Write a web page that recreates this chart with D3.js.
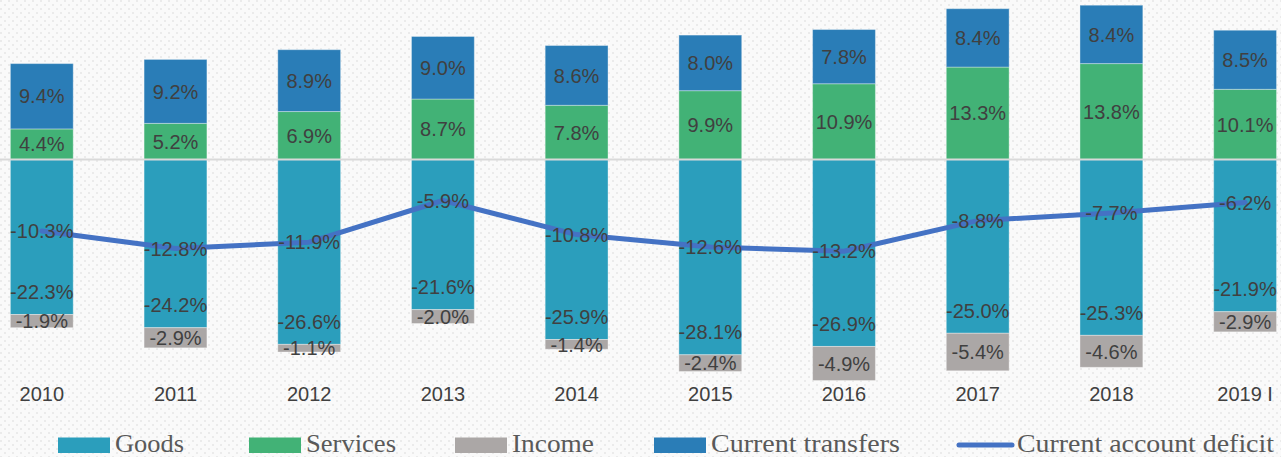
<!DOCTYPE html>
<html>
<head>
<meta charset="utf-8">
<script src="https://cdn.jsdelivr.net/npm/d3@7/dist/d3.min.js"></script>
<style>
  html, body { margin: 0; padding: 0; background: #fafafa; }
  svg { display: block; }
</style>
</head>
<body>
<svg id="chart" width="1281" height="457"></svg>
<script>
const categories = ["2010","2011","2012","2013","2014","2015","2016","2017","2018","2019 I"];
const goods     = [-22.3,-24.2,-26.6,-21.6,-25.9,-28.1,-26.9,-25.0,-25.3,-21.9];
const services  = [4.4,5.2,6.9,8.7,7.8,9.9,10.9,13.3,13.8,10.1];
const income    = [-1.9,-2.9,-1.1,-2.0,-1.4,-2.4,-4.9,-5.4,-4.6,-2.9];
const transfers = [9.4,9.2,8.9,9.0,8.6,8.0,7.8,8.4,8.4,8.5];
const deficit   = [-10.3,-12.8,-11.9,-5.9,-10.8,-12.6,-13.2,-8.8,-7.7,-6.2];
const seriesNames = ["Goods","Services","Income","Current transfers","Current account deficit"];

const colors = {
  goods: "#2b9ebc",
  services: "#42b276",
  income: "#aba7a6",
  transfers: "#2a7db7",
  line: "#4472c4"
};

const svg = d3.select("#chart");
const W = 1281, H = 457;

// background dotted pattern
const defs = svg.append("defs");
const pat = defs.append("pattern").attr("id","dots").attr("patternUnits","userSpaceOnUse")
  .attr("width",8).attr("height",8);
pat.append("rect").attr("width",8).attr("height",8).attr("fill","#fafafa");
pat.append("rect").attr("x",0).attr("y",0).attr("width",2).attr("height",2).attr("fill","#ebebeb");
pat.append("rect").attr("x",4).attr("y",4).attr("width",2).attr("height",2).attr("fill","#ebebeb");
svg.append("rect").attr("width",W).attr("height",H).attr("fill","url(#dots)");

const x = d3.scaleBand().domain(categories).range([-25.05, 1311.95]).paddingInner(0.53).paddingOuter(0.265);
const y = d3.scaleLinear().domain([-30, 20]).range([368, 20.5]);
const cx = c => x(c) + x.bandwidth() / 2;

const rows = categories.map((c, i) => ({
  c, goods: goods[i], services: services[i], income: income[i], transfers: transfers[i], deficit: deficit[i]
}));

// segments: positive stack services then transfers; negative goods then income
const segs = [];
rows.forEach(r => {
  segs.push({c: r.c, key: "services", v: r.services, y0: 0, y1: r.services});
  segs.push({c: r.c, key: "transfers", v: r.transfers, y0: r.services, y1: r.services + r.transfers});
  segs.push({c: r.c, key: "goods", v: r.goods, y0: 0, y1: r.goods});
  segs.push({c: r.c, key: "income", v: r.income, y0: r.goods, y1: r.goods + r.income});
});

const g = svg.append("g");
g.selectAll("rect.seg").data(segs).join("rect")
  .attr("class","seg")
  .attr("x", d => x(d.c))
  .attr("width", x.bandwidth())
  .attr("y", d => y(Math.max(d.y0, d.y1)))
  .attr("height", d => Math.abs(y(d.y0) - y(d.y1)))
  .attr("fill", d => colors[d.key])
  .attr("stroke", "rgba(255,255,255,0.35)")
  .attr("stroke-width", 1);

// zero line
svg.append("line")
  .attr("x1", 0).attr("x2", W)
  .attr("y1", y(0)).attr("y2", y(0))
  .attr("stroke", "#d9d9d9").attr("stroke-width", 2);

const fmt = v => v.toFixed(1) + "%";
const labelFont = "'Liberation Sans', Arial, sans-serif";

// segment labels
svg.append("g").selectAll("text").data(segs).join("text")
  .attr("x", d => cx(d.c))
  .attr("y", d => d.key === "goods" ? y(d.y1) - 22.5 : (y(d.y0) + y(d.y1)) / 2)
  .attr("dy", "0.36em")
  .attr("text-anchor", "middle")
  .attr("font-family", labelFont)
  .attr("font-size", 20)
  .attr("fill", "#404040")
  .text(d => fmt(d.v));

// line
const line = d3.line().x(d => cx(d.c)).y(d => y(d.deficit));
svg.append("path").datum(rows)
  .attr("d", line)
  .attr("fill", "none")
  .attr("stroke", colors.line)
  .attr("stroke-width", 5)
  .attr("stroke-linejoin", "round")
  .attr("stroke-linecap", "round");

svg.append("g").selectAll("text").data(rows).join("text")
  .attr("x", d => cx(d.c))
  .attr("y", d => y(d.deficit))
  .attr("dy", "0.36em")
  .attr("text-anchor", "middle")
  .attr("font-family", labelFont)
  .attr("font-size", 20)
  .attr("fill", "#404040")
  .text(d => fmt(d.deficit));

// x axis labels
const xAxis = d3.axisBottom(x).tickSize(0).tickPadding(0);
const ax = svg.append("g").attr("transform", "translate(0,387)").call(xAxis);
ax.select(".domain").remove();
ax.selectAll("text")
  .attr("font-family", labelFont)
  .attr("font-size", 20)
  .attr("fill", "#404040");

// legend
const legendItems = [
  {name: seriesNames[0], type: "rect", color: colors.goods, sx: 58, sw: 52, tx: 115, tl: 69},
  {name: seriesNames[1], type: "rect", color: colors.services, sx: 249, sw: 52, tx: 306, tl: 90},
  {name: seriesNames[2], type: "rect", color: colors.income, sx: 455, sw: 52, tx: 512, tl: 82},
  {name: seriesNames[3], type: "rect", color: colors.transfers, sx: 654, sw: 52, tx: 711, tl: 189},
  {name: seriesNames[4], type: "line", color: colors.line, sx: 959, sw: 53, tx: 1017, tl: 257}
];
const lg = svg.append("g");
legendItems.forEach(it => {
  if (it.type === "rect") {
    lg.append("rect").attr("x", it.sx).attr("y", 437.5).attr("width", it.sw).attr("height", 15.5).attr("fill", it.color);
  } else {
    lg.append("line").attr("x1", it.sx).attr("x2", it.sx + it.sw).attr("y1", 445).attr("y2", 445)
      .attr("stroke", it.color).attr("stroke-width", 5).attr("stroke-linecap", "round");
  }
  lg.append("text").attr("x", it.tx).attr("y", 451.5)
    .attr("font-family", "'Liberation Serif', 'Times New Roman', serif")
    .attr("font-size", 25)
    .attr("textLength", it.tl)
    .attr("lengthAdjust", "spacingAndGlyphs")
    .attr("fill", "#595959")
    .text(it.name);
});
</script>
</body>
</html>
